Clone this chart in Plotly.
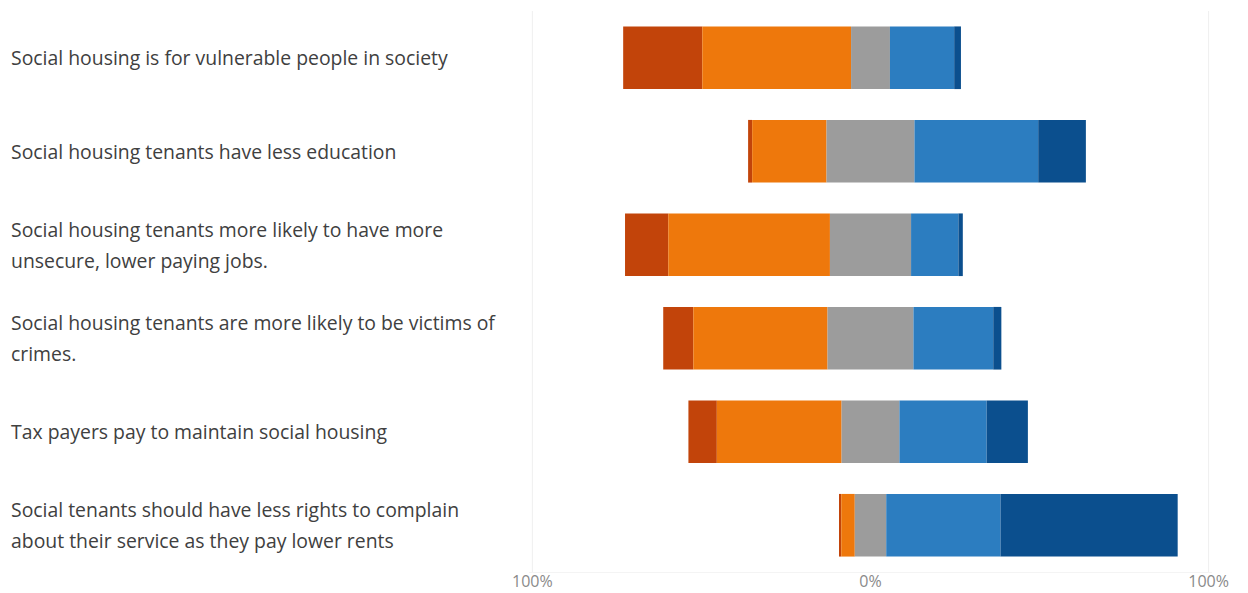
import plotly.graph_objects as go

# Survey statements (top to bottom) and response shares in percent
statements = [
    "Social housing is for vulnerable people in society",
    "Social housing tenants have less education",
    "Social housing tenants more likely to have more<br>unsecure, lower paying jobs.",
    "Social housing tenants are more likely to be victims of<br>crimes.",
    "Tax payers pay to maintain social housing",
    "Social tenants should have less rights to complain<br>about their service as they pay lower rents",
]
strongly_disagree = [23.4, 1.2, 12.8, 8.9, 8.4, 0.4]
disagree = [44.0, 22.0, 47.8, 39.7, 36.9, 4.0]
neutral = [11.5, 26.0, 24.0, 25.4, 17.1, 9.3]
agree = [19.0, 36.6, 14.0, 23.6, 25.8, 33.8]
strongly_agree = [2.0, 14.1, 1.3, 2.4, 12.2, 52.4]

tick_vals = [-100, 0, 100]
tick_text = ["100%", "0%", "100%"]

colors = {
    "Strongly disagree": "#C2440A",
    "Disagree": "#EE780C",
    "Neutral": "#9C9C9C",
    "Agree": "#2C7DC0",
    "Strongly agree": "#0B4F8E",
}

# Diverging layout: neutral centred on zero, disagreement to the left,
# agreement to the right
neutral_start = [-n / 2 for n in neutral]
disagree_start = [s - d for s, d in zip(neutral_start, disagree)]
sd_start = [s - d for s, d in zip(disagree_start, strongly_disagree)]
agree_start = [n / 2 for n in neutral]
sa_start = [s + a for s, a in zip(agree_start, agree)]

segments = [
    ("Strongly disagree", strongly_disagree, sd_start),
    ("Disagree", disagree, disagree_start),
    ("Neutral", neutral, neutral_start),
    ("Agree", agree, agree_start),
    ("Strongly agree", strongly_agree, sa_start),
]

fig = go.Figure()
for name, values, base in segments:
    fig.add_trace(go.Bar(
        y=statements, x=values, base=base, name=name, orientation="h",
        marker=dict(color=colors[name], line=dict(width=0)),
        showlegend=False,
        hovertemplate="%{x:.1f}%<extra>" + name + "</extra>",
    ))

# Left-aligned statement labels, one annotation per line
line_gap = 31
for s in statements:
    lines = s.split("<br>")
    n = len(lines)
    for i, ln in enumerate(lines):
        shift = ((n - 1) / 2 - i) * line_gap
        fig.add_annotation(
            x=-0.761, xref="paper", y=s, yref="y",
            text=ln, showarrow=False, xanchor="left", yanchor="middle",
            yshift=shift, align="left",
            font=dict(family="Open Sans", size=19.4, color="#404040"),
        )

# Faint gridlines at the ±100% ticks
for v in (tick_vals[0], tick_vals[-1]):
    fig.add_shape(
        type="line", xref="x", yref="paper", x0=v, x1=v, y0=0, y1=1,
        line=dict(color="#efefef", width=1), layer="below",
    )

fig.update_layout(
    barmode="overlay",
    bargap=0.33,
    width=1248, height=593,
    margin=dict(l=529, r=36, t=11, b=21),
    paper_bgcolor="white", plot_bgcolor="white",
    font=dict(family="Open Sans"),
)
fig.update_xaxes(
    range=[-101, 101], tickvals=tick_vals, ticktext=tick_text,
    tickfont=dict(size=16, color="#8a8a8a"),
    ticklabelstandoff=-5,
    showgrid=False, zeroline=False, showline=True, linecolor="#f4f4f4",
    ticks="", automargin=False, fixedrange=True,
)
fig.update_yaxes(
    categoryorder="array", categoryarray=statements, autorange="reversed",
    showticklabels=False, showgrid=False, zeroline=False,
    automargin=False, fixedrange=True,
)

fig.write_html("out.html")
